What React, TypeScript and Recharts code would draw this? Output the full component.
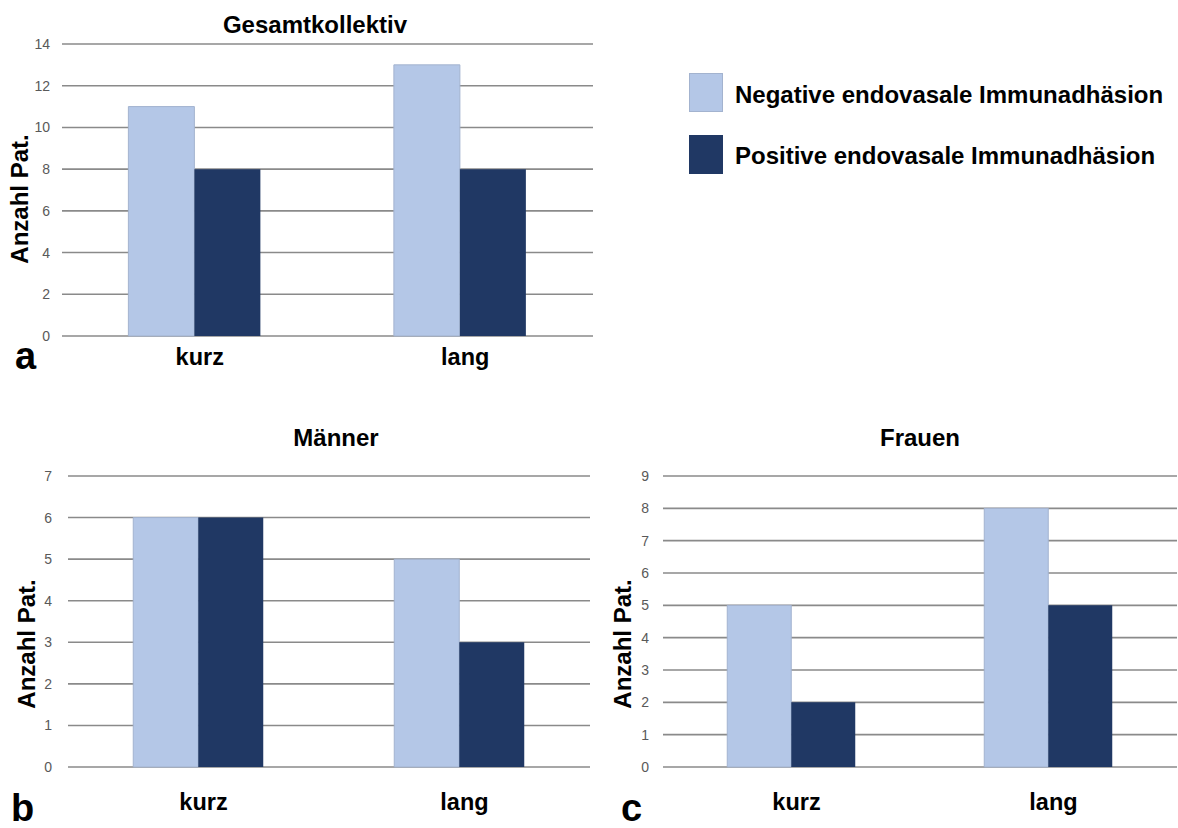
import React from 'react';
import { BarChart, Bar, XAxis, YAxis, CartesianGrid } from 'recharts';

// Categories and counts per group
const categories = ['kurz', 'lang'];
const gesamtNegative = [11, 13];
const gesamtPositive = [8, 8];
const maennerNegative = [6, 5];
const maennerPositive = [6, 3];
const frauenNegative = [5, 8];
const frauenPositive = [2, 5];

const ticksGesamt = [0, 2, 4, 6, 8, 10, 12, 14];
const ticksMaenner = [0, 1, 2, 3, 4, 5, 6, 7];
const ticksFrauen = [0, 1, 2, 3, 4, 5, 6, 7, 8, 9];

const seriesNames = ['Negative endovasale Immunadhäsion', 'Positive endovasale Immunadhäsion'];

const LIGHT = '#B4C7E7';
const LIGHT_EDGE = '#A3B3CF';
const DARK = '#203864';
const GRID = '#8A8A8A';
const FONT = '"Liberation Sans", Arial, sans-serif';

const buildRows = (neg: number[], pos: number[]) =>
  categories.map((c, i) => ({ name: c, negative: neg[i], positive: pos[i] }));

const makeXTick = (dy: number) => (props: any) => {
  const { x, y, payload } = props;
  return (
    <text x={x + 5} y={y + dy} textAnchor="middle" fontFamily={FONT} fontWeight="bold" fontSize={23.5} fill="#000">
      {payload.value}
    </text>
  );
};

type PanelProps = {
  rows: { name: string; negative: number; positive: number }[];
  ticks: number[];
  width: number;
  height: number;
  margin: { top: number; right: number; left: number; bottom: number };
  xAxisHeight: number;
  labelDy: number;
  tickGap: number;
};

function Panel({ rows, ticks, width, height, margin, xAxisHeight, labelDy, tickGap }: PanelProps) {
  return (
    <BarChart width={width} height={height} data={rows} margin={margin} barCategoryGap="25%" barGap={0}>
      <CartesianGrid vertical={false} stroke={GRID} strokeWidth={1.6} />
      <XAxis
        dataKey="name"
        axisLine={false}
        tickLine={false}
        tickSize={0}
        tickMargin={0}
        height={xAxisHeight}
        tick={makeXTick(labelDy)}
        interval={0}
      />
      <YAxis
        domain={[ticks[0], ticks[ticks.length - 1]]}
        ticks={ticks}
        interval={0}
        axisLine={false}
        tickLine={false}
        tickSize={0}
        tickMargin={tickGap}
        width={40}
        tick={{ fontFamily: FONT, fontSize: 14, fill: '#595959' }}
      />
      <Bar dataKey="negative" name={seriesNames[0]} fill={LIGHT} stroke={LIGHT_EDGE} strokeWidth={1} isAnimationActive={false} />
      <Bar dataKey="positive" name={seriesNames[1]} fill={DARK} isAnimationActive={false} />
    </BarChart>
  );
}

export default function App() {
  const boldText = { fontFamily: FONT, fontWeight: 'bold' as const, fill: '#000' };
  return (
    <div style={{ position: 'absolute', left: 0, top: 0, width: 1178, height: 828, background: '#fff', overflow: 'hidden' }}>
      <div style={{ position: 'absolute', left: 0, top: 0 }}>
        <Panel
          rows={buildRows(gesamtNegative, gesamtPositive)}
          ticks={ticksGesamt}
          width={600}
          height={380}
          margin={{ top: 44, right: 7, left: 22, bottom: 0 }}
          xAxisHeight={44}
          labelDy={29}
          tickGap={12}
        />
      </div>
      <div style={{ position: 'absolute', left: 0, top: 440 }}>
        <Panel
          rows={buildRows(maennerNegative, maennerPositive)}
          ticks={ticksMaenner}
          width={600}
          height={388}
          margin={{ top: 36, right: 10, left: 28, bottom: 0 }}
          xAxisHeight={61}
          labelDy={43}
          tickGap={16}
        />
      </div>
      <div style={{ position: 'absolute', left: 600, top: 440 }}>
        <Panel
          rows={buildRows(frauenNegative, frauenPositive)}
          ticks={ticksFrauen}
          width={578}
          height={388}
          margin={{ top: 36, right: 1, left: 23, bottom: 0 }}
          xAxisHeight={61}
          labelDy={43}
          tickGap={14}
        />
      </div>
      <svg width={1178} height={828} style={{ position: 'absolute', left: 0, top: 0, pointerEvents: 'none' }}>
        {/* panel titles */}
        <text x={315} y={33} textAnchor="middle" fontSize={24} {...boldText}>Gesamtkollektiv</text>
        <text x={336} y={446} textAnchor="middle" fontSize={24} {...boldText}>Männer</text>
        <text x={920} y={446} textAnchor="middle" fontSize={24} {...boldText}>Frauen</text>
        {/* y-axis titles */}
        <text transform="translate(28,199) rotate(-90)" textAnchor="middle" fontSize={24} {...boldText}>Anzahl Pat.</text>
        <text transform="translate(35,644) rotate(-90)" textAnchor="middle" fontSize={24} {...boldText}>Anzahl Pat.</text>
        <text transform="translate(631,644) rotate(-90)" textAnchor="middle" fontSize={24} {...boldText}>Anzahl Pat.</text>
        {/* panel letters */}
        <text x={15} y={369} fontSize={38} {...boldText}>a</text>
        <text x={11} y={821} fontSize={38} {...boldText}>b</text>
        <text x={621} y={821} fontSize={38} {...boldText}>c</text>
        {/* legend */}
        <rect x={689.5} y={73.5} width={33} height={38} fill={LIGHT} stroke={LIGHT_EDGE} strokeWidth={1} />
        <text x={735} y={103} fontSize={24} {...boldText}>{seriesNames[0]}</text>
        <rect x={689.5} y={135.5} width={33} height={38} fill={DARK} stroke={DARK} strokeWidth={1} />
        <text x={735} y={164} fontSize={24} {...boldText}>{seriesNames[1]}</text>
      </svg>
    </div>
  );
}
